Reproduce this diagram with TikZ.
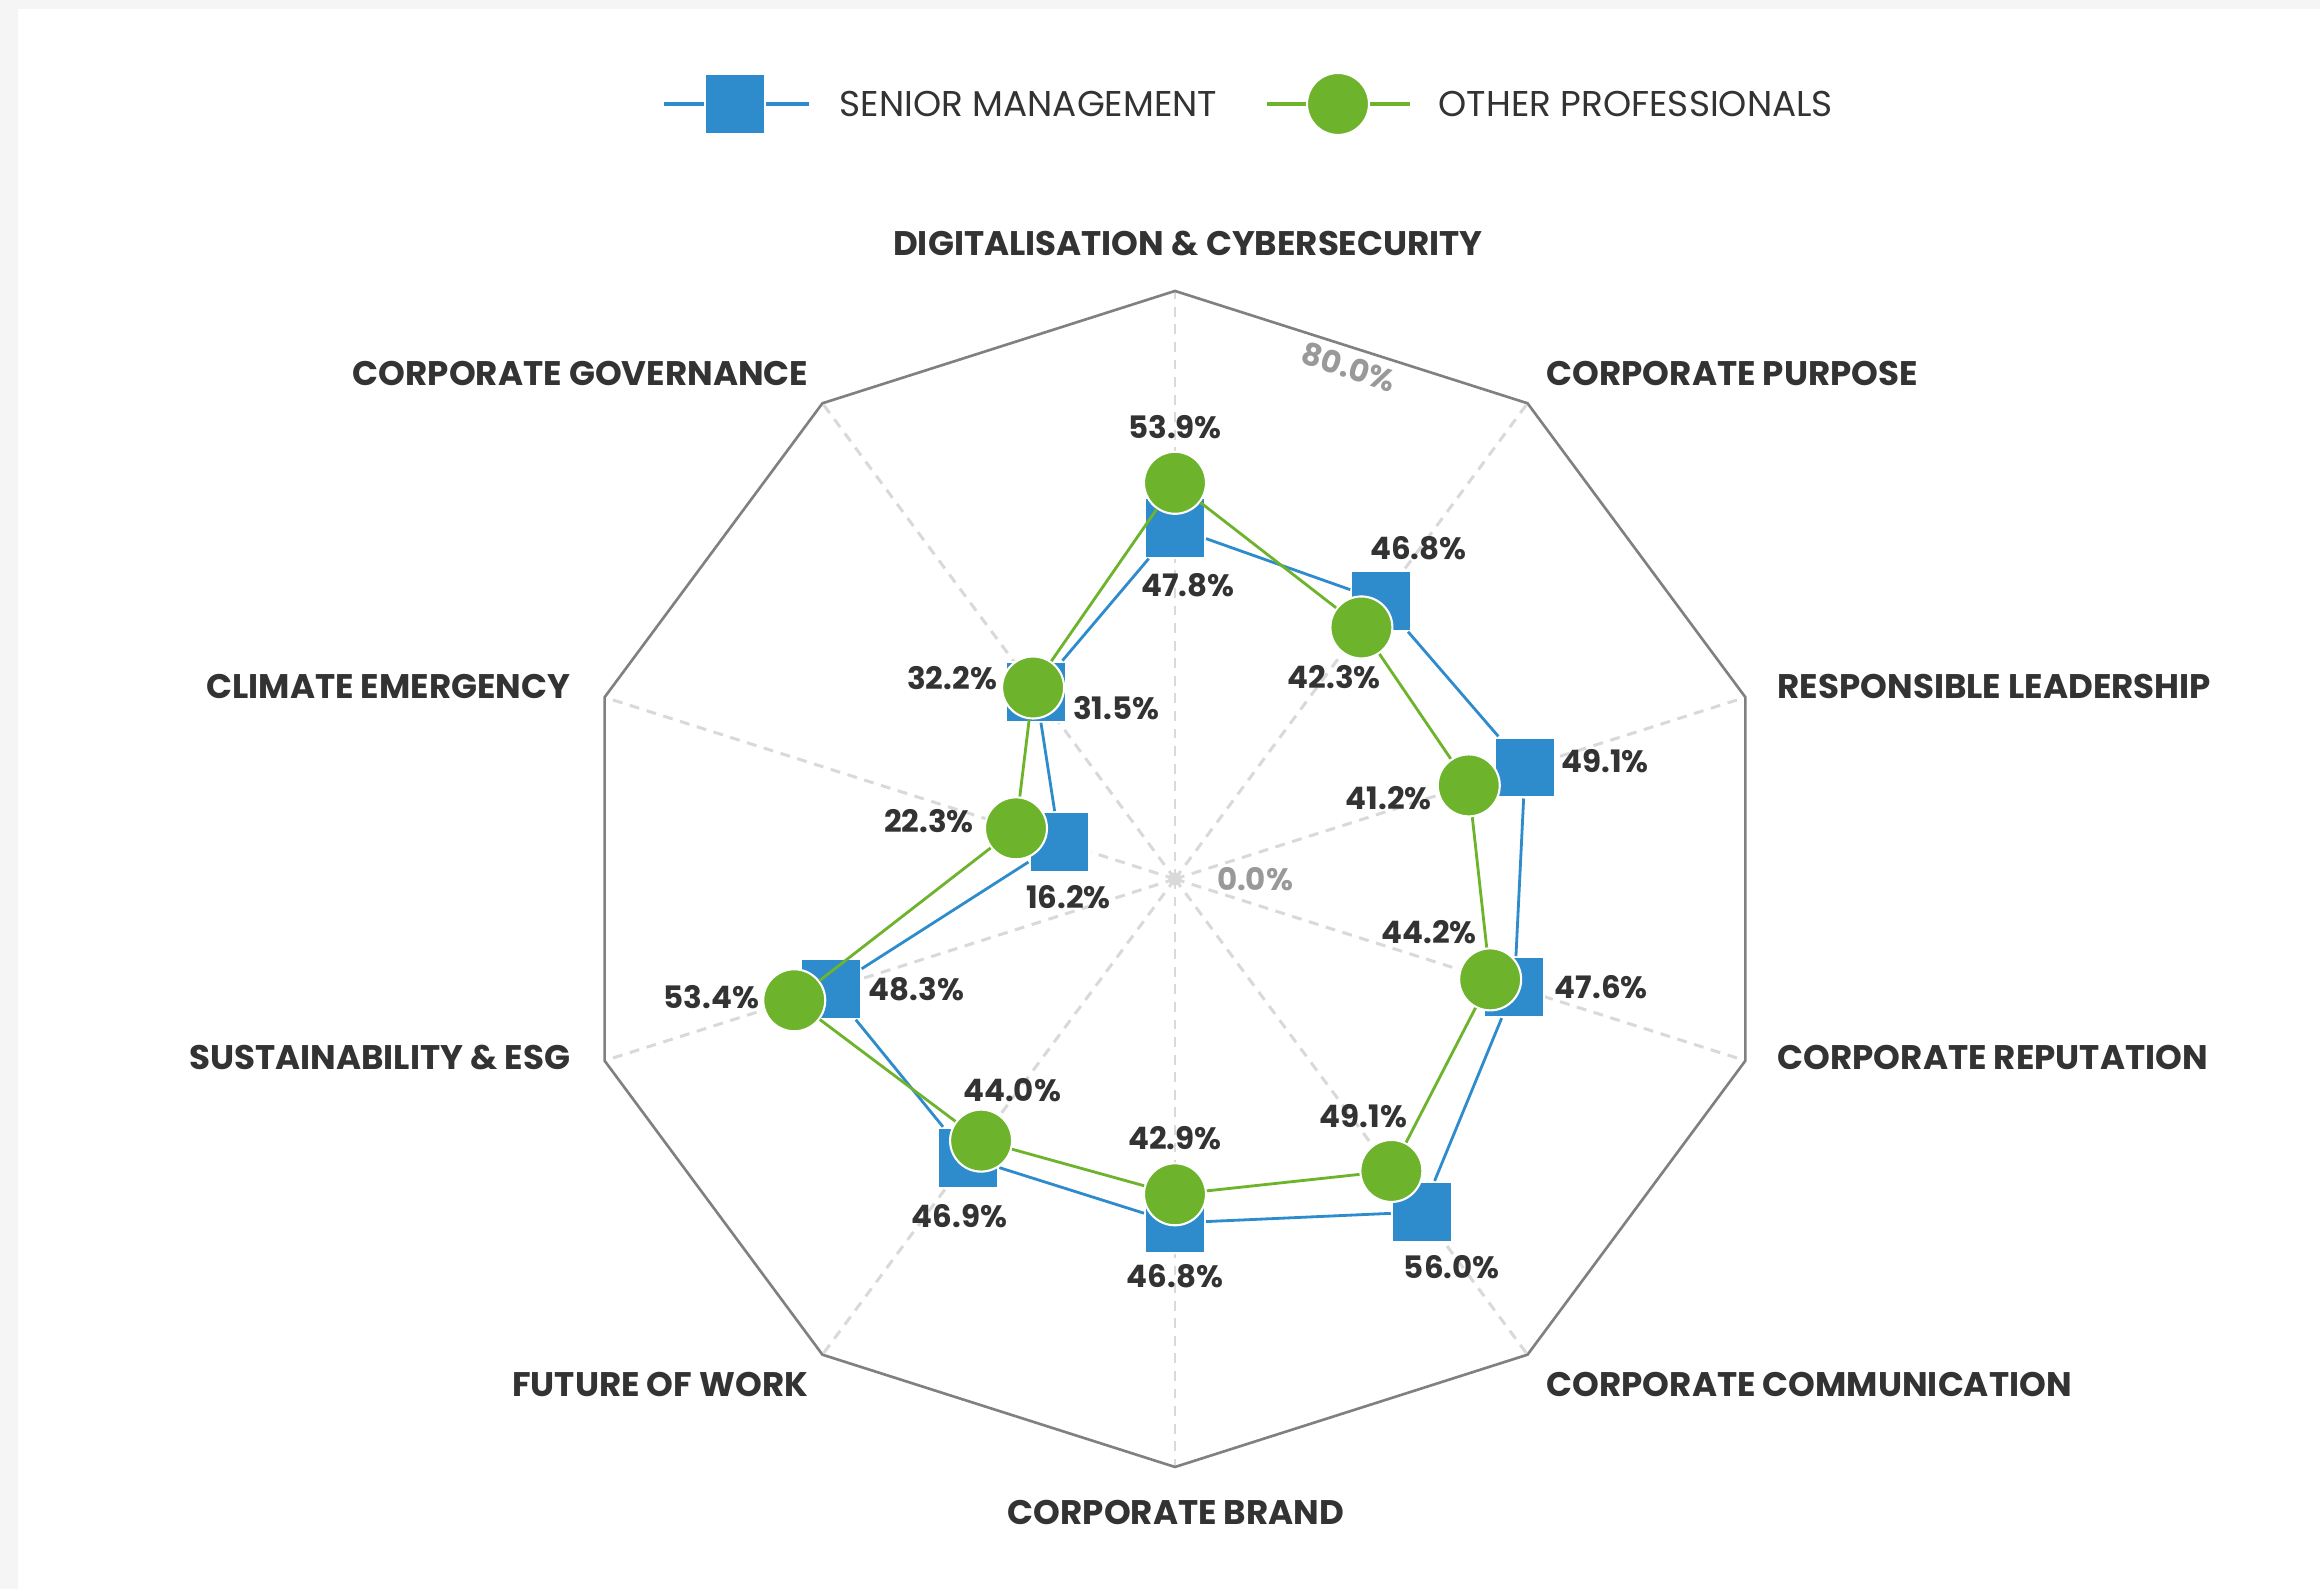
\documentclass[tikz,border=0pt]{standalone}
\usepackage{fontspec}
\setmainfont{Poppins}
\definecolor{smblue}{HTML}{2E8BCC}
\definecolor{opgreen}{HTML}{6DB32B}
\definecolor{ink}{HTML}{333333}
\begin{document}
\begin{tikzpicture}[
smark/.style={rectangle,fill=smblue,draw=white,line width=0.6pt,minimum size=0.6cm,inner sep=0},
omark/.style={circle,fill=opgreen,draw=white,line width=0.6pt,minimum size=0.62cm,inner sep=0},
smline/.style={smblue,line width=0.8pt},
opline/.style={opgreen,line width=0.8pt},
spoke/.style={black!15,line width=0.85pt,dash pattern=on 2.8pt off 2.2pt},
rim/.style={black!50,line width=0.75pt},
cat/.style={font=\bfseries\fontsize{9.7}{11}\selectfont,text=ink,inner sep=0},
val/.style={font=\bfseries\fontsize{8.8}{10}\selectfont,text=ink,inner sep=0},
key/.style={font=\fontsize{10.2}{12}\selectfont,text=ink,inner sep=0,anchor=west},
tick/.style={font=\bfseries\fontsize{8.8}{10}\selectfont,text=black!40,inner sep=0},
]
% page
\fill[black!4] (-11.75,-7.10) rectangle (11.45,8.79);
\fill[white] (-11.57,-7.10) rectangle (11.45,8.70);
\useasboundingbox (-11.75,-7.10) rectangle (11.45,8.79);

% legend
\coordinate (smA) at (-5.11,7.75);
\coordinate (smB) at (-3.66,7.75);
\coordinate (opA) at (0.92,7.75);
\coordinate (opB) at (2.35,7.75);
\draw[smline,line width=1.1pt] (smA) -- (smB);
\node[smark] (smkey) at (-4.40,7.75) {};
\node[key] (smtext) at (-3.36,7.75) {SENIOR MANAGEMENT};
\draw[opline,line width=1.1pt] (opA) -- (opB);
\node[omark] (opkey) at (1.63,7.75) {};
\node[key] (optext) at (2.63,7.75) {OTHER PROFESSIONALS};

\begin{scope}[xscale=1.02]
% grid
\foreach \a in {90,54,...,-234}
  \draw[spoke] (0,0) -- (\a:5.88);
\draw[rim] (90:5.88) \foreach \a in {54,18,...,-234} { -- (\a:5.88) } -- cycle;
\fill[black!15] (0,0) circle (0.065);

% senior management
\foreach \a/\v [count=\i] in {90/47.8,54/46.8,18/49.1,-18/47.6,-54/56.0,
    -90/46.8,-126/46.9,-162/48.3,162/16.2,126/31.5}
  \node[smark] (sm\i) at (\a:{\v*0.0735}) {};
\draw[smline] (sm1) -- (sm2) -- (sm3) -- (sm4) -- (sm5) -- (sm6)
  -- (sm7) -- (sm8) -- (sm9) -- (sm10) -- (sm1);

% other professionals
\foreach \a/\v [count=\i] in {90/53.9,54/42.3,18/41.2,-18/44.2,-54/49.1,
    -90/42.9,-126/44.0,-162/53.4,162/22.3,126/32.2}
  \node[omark] (op\i) at (\a:{\v*0.0735}) {};
\draw[opline] (op1) -- (op2) -- (op3) -- (op4) -- (op5) -- (op6)
  -- (op7) -- (op8) -- (op9) -- (op10) -- (op1);
\end{scope}

% values
\foreach \v/\dx/\dy [count=\i] in {47.8/0.13/-0.58,46.8/0.37/0.52,49.1/0.80/0.06,
    47.6/0.87/0,56.0/0.30/-0.55,46.8/0/-0.53,46.9/-0.09/-0.58,48.3/0.86/0,
    16.2/0.09/-0.55,31.5/0.80/-0.16}
  \node[val] at ([shift={(\dx,\dy)}]sm\i.center) {\v\%};
\foreach \v/\dx/\dy [count=\i] in {53.9/0/0.56,42.3/-0.27/-0.50,41.2/-0.80/-0.13,
    44.2/-0.61/0.47,49.1/-0.28/0.55,42.9/0/0.56,44.0/0.31/0.50,53.4/-0.83/0.03,
    22.3/-0.87/0.07,32.2/-0.81/0.09}
  \node[val] at ([shift={(\dx,\dy)}]op\i.center) {\v\%};
\node[tick,rotate=-18] (top) at (1.74,5.12) {80.0\%};
\node[tick] (zero) at (0.80,0) {0.0\%};

% axis names
\node[cat] (digi) at (0.13,6.35) {DIGITALISATION \& CYBERSECURITY};
\node[cat,anchor=west] (purp) at (3.71,5.05) {CORPORATE PURPOSE};
\node[cat,anchor=west] (lead) at (6.02,1.92) {RESPONSIBLE LEADERSHIP};
\node[cat,anchor=west] (repu) at (6.02,-1.79) {CORPORATE REPUTATION};
\node[cat,anchor=west] (comm) at (3.71,-5.06) {CORPORATE COMMUNICATION};
\node[cat] (brand) at (0.01,-6.33) {CORPORATE BRAND};
\node[cat,anchor=east] (work) at (-3.66,-5.05) {FUTURE OF WORK};
\node[cat,anchor=east] (esg) at (-6.04,-1.79) {SUSTAINABILITY \& ESG};
\node[cat,anchor=east] (clim) at (-6.04,1.92) {CLIMATE EMERGENCY};
\node[cat,anchor=east] (gov) at (-3.66,5.05) {CORPORATE GOVERNANCE};
\end{tikzpicture}
\end{document}
